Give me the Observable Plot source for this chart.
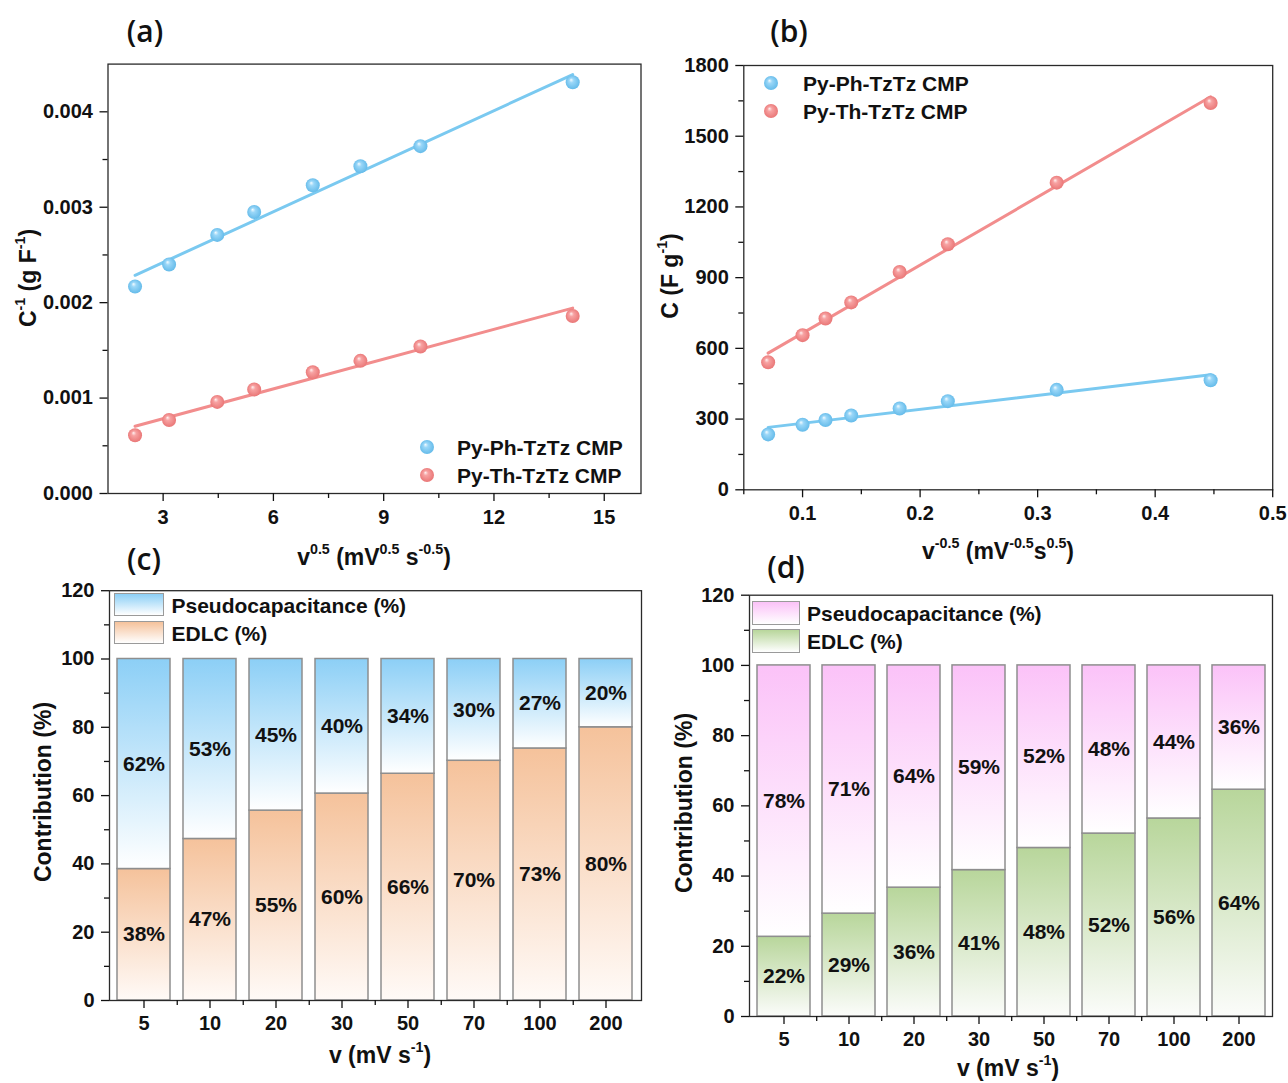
<!DOCTYPE html>
<html><head><meta charset="utf-8">
<script src="https://cdn.jsdelivr.net/npm/d3@7"></script>
<script src="https://cdn.jsdelivr.net/npm/@observablehq/plot@0.6"></script>
<style>
body{margin:0;background:#fff;}
#wrap{position:relative;width:1288px;height:1083px;overflow:hidden;background:#fff;font-family:"Liberation Sans",Arial,sans-serif;font-weight:bold;color:#111;}
.plot{position:absolute;}
.title{position:absolute;font-size:23px;white-space:nowrap;line-height:1;transform:translate(-50%,-50%);}
.ytitle{transform:translate(-50%,-50%) rotate(-90deg);}
sup{font-size:0.62em;vertical-align:0.72em;line-height:0;}
.panel{position:absolute;font-family:"Open Sans",sans-serif;font-weight:600;font-size:30px;line-height:1;transform:translate(-50%,-50%);}
.legtxt{position:absolute;font-size:21px;white-space:nowrap;line-height:1;transform:translateY(-50%);}
.legdot{position:absolute;width:16px;height:16px;}
.sw{position:absolute;box-sizing:border-box;border:1.5px solid #9a9a9a;}
</style></head>
<body>
<svg width="0" height="0" style="position:absolute"><defs>
<radialGradient id="ballBlue" cx="0.5" cy="0.5" r="0.55" fx="0.38" fy="0.32">
<stop offset="0" stop-color="#f4fbff"/><stop offset="0.3" stop-color="#9ad7f8"/><stop offset="1" stop-color="#5fb8e8"/>
</radialGradient>
<radialGradient id="ballRed" cx="0.5" cy="0.5" r="0.55" fx="0.38" fy="0.32">
<stop offset="0" stop-color="#fff2f2"/><stop offset="0.3" stop-color="#f7a2a2"/><stop offset="1" stop-color="#e87272"/>
</radialGradient>
<linearGradient id="gPseudoC" x1="0" y1="0" x2="0" y2="1"><stop offset="0" stop-color="#8ccff6"/><stop offset="1" stop-color="#ffffff"/></linearGradient>
<linearGradient id="gEdlcC" x1="0" y1="0" x2="0" y2="1"><stop offset="0" stop-color="#f5c29b"/><stop offset="1" stop-color="#fffaf7"/></linearGradient>
<linearGradient id="gPseudoD" x1="0" y1="0" x2="0" y2="1"><stop offset="0" stop-color="#fbc2f8"/><stop offset="1" stop-color="#ffffff"/></linearGradient>
<linearGradient id="gEdlcD" x1="0" y1="0" x2="0" y2="1"><stop offset="0" stop-color="#b8d69b"/><stop offset="1" stop-color="#fbfcfa"/></linearGradient>
</defs></svg>
<div id="wrap"></div>
<script>
// ---------- data ----------
const scanRates = [5, 10, 20, 30, 50, 70, 100, 200];               // v (mV s-1)
const sqrtV = [2.236, 3.162, 4.472, 5.477, 7.071, 8.367, 10.0, 14.142];      // v^0.5
const invSqrtV = [0.4472, 0.3162, 0.2236, 0.1826, 0.1414, 0.1195, 0.1000, 0.0707]; // v^-0.5
const invC_Ph = [0.00217, 0.00240, 0.00271, 0.00295, 0.00323, 0.00343, 0.00364, 0.00431];
const invC_Th = [0.00061, 0.00077, 0.00096, 0.00109, 0.00127, 0.00139, 0.00154, 0.00186];
const C_Ph = [465, 424, 376, 345, 315, 296, 276, 235];
const C_Th = [1641, 1303, 1042, 924, 795, 727, 656, 541];
const edlcC = [38.5, 47.3, 55.6, 60.6, 66.4, 70.2, 73.8, 80.0];
const edlcLabC = [38, 47, 55, 60, 66, 70, 73, 80];
const pseudoLabC = [62, 53, 45, 40, 34, 30, 27, 20];
const edlcD = [22.7, 29.3, 36.7, 41.7, 48.0, 52.1, 56.4, 64.6];
const edlcLabD = [22, 29, 36, 41, 48, 52, 56, 64];
const pseudoLabD = [78, 71, 64, 59, 52, 48, 44, 36];
const seriesNames = ["Py-Ph-TzTz CMP", "Py-Th-TzTz CMP"];
const ticksA_x = [3, 6, 9, 12, 15], minorA_x = [4.5, 7.5, 10.5, 13.5];
const ticksA_y = [0, 0.001, 0.002, 0.003, 0.004], minorA_y = [0.0005, 0.0015, 0.0025, 0.0035];
const ticksB_x = [0.1, 0.2, 0.3, 0.4, 0.5], minorB_x = [0.05, 0.15, 0.25, 0.35, 0.45];
const ticksB_y = [0, 300, 600, 900, 1200, 1500, 1800], minorB_y = [150, 450, 750, 1050, 1350, 1650];
const ticksBar_y = [0, 20, 40, 60, 80, 100, 120], minorBar_y = [10, 30, 50, 70, 90, 110];

// ---------- helpers ----------
const wrap = document.getElementById("wrap");
const baseStyle = {fontFamily: '"Liberation Sans", Arial, sans-serif', fontSize: "20px", fontWeight: "bold", color: "#111", background: "transparent", overflow: "visible"};
function place(el, left, top) {
  const d = document.createElement("div");
  d.className = "plot"; d.style.left = left + "px"; d.style.top = top + "px";
  d.appendChild(el); wrap.appendChild(d);
}
function html(s) { wrap.insertAdjacentHTML("beforeend", s); }
const frameStroke = "#2a2a2a";

// ---------- (a) ----------
const rowsA = sqrtV.map((x, i) => ({x, ph: invC_Ph[i], th: invC_Th[i]}));
place(Plot.plot({
  width: 650, height: 540, marginLeft: 107.5, marginRight: 9.5, marginTop: 63.6, marginBottom: 47,
  style: baseStyle,
  x: {domain: [1.5, 16], label: null},
  y: {domain: [0, 0.0045], label: null},
  marks: [
    Plot.linearRegressionY(rowsA, {x: "x", y: "ph", stroke: "#7ac9f0", strokeWidth: 3, ci: 0}),
    Plot.linearRegressionY(rowsA, {x: "x", y: "th", stroke: "#f28d8d", strokeWidth: 3, ci: 0}),
    Plot.dot(rowsA, {x: "x", y: "ph", r: 7, fill: "url(#ballBlue)"}),
    Plot.dot(rowsA, {x: "x", y: "th", r: 7, fill: "url(#ballRed)"}),
    Plot.frame({stroke: frameStroke, strokeWidth: 1.3}),
    Plot.axisY(ticksA_y, {tickSize: 8, tickPadding: 7, strokeWidth: 1.3, tickFormat: d3.format(".3f"), label: null}),
    Plot.axisY(minorA_y, {tickSize: 5, strokeWidth: 1.3, text: null, label: null}),
    Plot.axisX(ticksA_x, {tickSize: 8, tickPadding: 8, strokeWidth: 1.3, label: null}),
    Plot.axisX(minorA_x, {tickSize: 5, strokeWidth: 1.3, text: null, label: null})
  ]
}), 0, 0);

// ---------- (b) ----------
const rowsB = invSqrtV.map((x, i) => ({x, ph: C_Ph[i], th: C_Th[i]}));
place(Plot.plot({
  width: 648, height: 540, marginLeft: 103.3, marginRight: 15.8, marginTop: 65, marginBottom: 50.7,
  style: baseStyle,
  x: {domain: [0.05, 0.5], label: null},
  y: {domain: [0, 1800], label: null},
  marks: [
    Plot.linearRegressionY(rowsB, {x: "x", y: "ph", stroke: "#7ac9f0", strokeWidth: 3, ci: 0}),
    Plot.linearRegressionY(rowsB, {x: "x", y: "th", stroke: "#f28d8d", strokeWidth: 3, ci: 0}),
    Plot.dot(rowsB, {x: "x", y: "ph", r: 7, fill: "url(#ballBlue)"}),
    Plot.dot(rowsB, {x: "x", y: "th", r: 7, fill: "url(#ballRed)"}),
    Plot.frame({stroke: frameStroke, strokeWidth: 1.3}),
    Plot.axisY(ticksB_y, {tickSize: 8, tickPadding: 7, strokeWidth: 1.3, tickFormat: d => String(d), label: null}),
    Plot.axisY(minorB_y, {tickSize: 5, strokeWidth: 1.3, text: null, label: null}),
    Plot.axisX(ticksB_x, {tickSize: 8, tickPadding: 8, strokeWidth: 1.3, tickFormat: d => String(d), label: null}),
    Plot.axisX(minorB_x, {tickSize: 5, strokeWidth: 1.3, text: null, label: null})
  ]
}), 640, 0);

// ---------- bar panels ----------
function barPanel(edlc, labE, labP, gE, gP, opts) {
  const cats = scanRates.map(String);
  const rows = cats.map((v, i) => ({v, edlc: edlc[i], le: labE[i], lp: labP[i]}));
  return Plot.plot({
    width: opts.width, height: opts.height,
    marginLeft: opts.ml, marginRight: opts.mr, marginTop: opts.mt, marginBottom: opts.mb,
    style: baseStyle,
    x: {type: "band", domain: cats, paddingInner: 0.19, paddingOuter: 0.095, label: null},
    y: {domain: [0, 120], label: null},
    marks: [
      Plot.barY(rows, {x: "v", y1: 0, y2: "edlc", fill: gE, stroke: "#8e8e8e", strokeWidth: 1.5}),
      Plot.barY(rows, {x: "v", y1: "edlc", y2: 100, fill: gP, stroke: "#8e8e8e", strokeWidth: 1.5}),
      Plot.text(rows, {x: "v", y: d => d.edlc / 2, text: d => d.le + "%", fontSize: 21, fontWeight: "bold", fill: "#111"}),
      Plot.text(rows, {x: "v", y: d => (d.edlc + 100) / 2, text: d => d.lp + "%", fontSize: 21, fontWeight: "bold", fill: "#111"}),
      Plot.frame({stroke: frameStroke, strokeWidth: 1.3}),
      Plot.axisY(ticksBar_y, {tickSize: 8, tickPadding: 7, strokeWidth: 1.3, label: null}),
      Plot.axisY(minorBar_y, {tickSize: 5, strokeWidth: 1.3, text: null, label: null}),
      Plot.axisX(cats, {tickSize: 8, tickPadding: 7, strokeWidth: 1.3, label: null}),
      Plot.axisX(cats.slice(0, -1), {tickSize: 5, strokeWidth: 1.3, text: null, label: null, dx: opts.half})
    ]
  });
}
place(barPanel(edlcC, edlcLabC, pseudoLabC, "url(#gEdlcC)", "url(#gPseudoC)",
  {width: 650, height: 543, ml: 109, mr: 9, mt: 50.2, mb: 83, half: 33.25}), 0, 540);
place(barPanel(edlcD, edlcLabD, pseudoLabD, "url(#gEdlcD)", "url(#gPseudoD)",
  {width: 648, height: 543, ml: 109, mr: 16, mt: 54.7, mb: 67, half: 32.7}), 640, 540);

// ---------- titles / labels ----------
html(`<div class="panel" style="left:145px;top:31px">(a)</div>`);
html(`<div class="panel" style="left:789px;top:31px">(b)</div>`);
html(`<div class="panel" style="left:144px;top:559px">(c)</div>`);
html(`<div class="panel" style="left:786px;top:567px">(d)</div>`);

html(`<div class="title" style="left:374px;top:557px">v<sup>0.5</sup> (mV<sup>0.5</sup> s<sup>-0.5</sup>)</div>`);
html(`<div class="title ytitle" style="left:28px;top:278px">C<sup>-1</sup> (g F<sup>-1</sup>)</div>`);
html(`<div class="title" style="left:998px;top:551px">v<sup>-0.5</sup> (mV<sup>-0.5</sup>s<sup>0.5</sup>)</div>`);
html(`<div class="title ytitle" style="left:670px;top:276px">C (F g<sup>-1</sup>)</div>`);
html(`<div class="title" style="left:380px;top:1055px">v (mV s<sup>-1</sup>)</div>`);
html(`<div class="title ytitle" style="left:43px;top:792px">Contribution (%)</div>`);
html(`<div class="title" style="left:1008px;top:1068px">v (mV s<sup>-1</sup>)</div>`);
html(`<div class="title ytitle" style="left:684px;top:803px">Contribution (%)</div>`);

// legends (a), (b)
function dot(x, y, grad) {
  html(`<svg class="legdot" style="left:${x - 8}px;top:${y - 8}px" width="16" height="16"><circle cx="8" cy="8" r="7" fill="url(#${grad})"/></svg>`);
}
function legtxt(x, y, t) { html(`<div class="legtxt" style="left:${x}px;top:${y}px">${t}</div>`); }
dot(426.7, 447, "ballBlue"); legtxt(457, 447, seriesNames[0]);
dot(426.7, 475, "ballRed"); legtxt(457, 475, seriesNames[1]);
dot(771, 83, "ballBlue"); legtxt(803, 83, seriesNames[0]);
dot(771, 111, "ballRed"); legtxt(803, 111, seriesNames[1]);

// legends (c), (d)
function sw(x, y, w, h, c) { html(`<div class="sw" style="left:${x}px;top:${y}px;width:${w}px;height:${h}px;background:linear-gradient(to bottom, ${c}, #ffffff)"></div>`); }
sw(114, 593, 50, 23, "#8ccff6"); legtxt(171.5, 605, "Pseudocapacitance (%)");
sw(114, 621, 50, 23, "#f5c29b"); legtxt(171.5, 633, "EDLC (%)");
sw(752, 600.5, 48, 24, "#fbc2f8"); legtxt(807, 613, "Pseudocapacitance (%)");
sw(752, 628.5, 48, 24, "#b8d69b"); legtxt(807, 641, "EDLC (%)");
</script>
</body></html>
